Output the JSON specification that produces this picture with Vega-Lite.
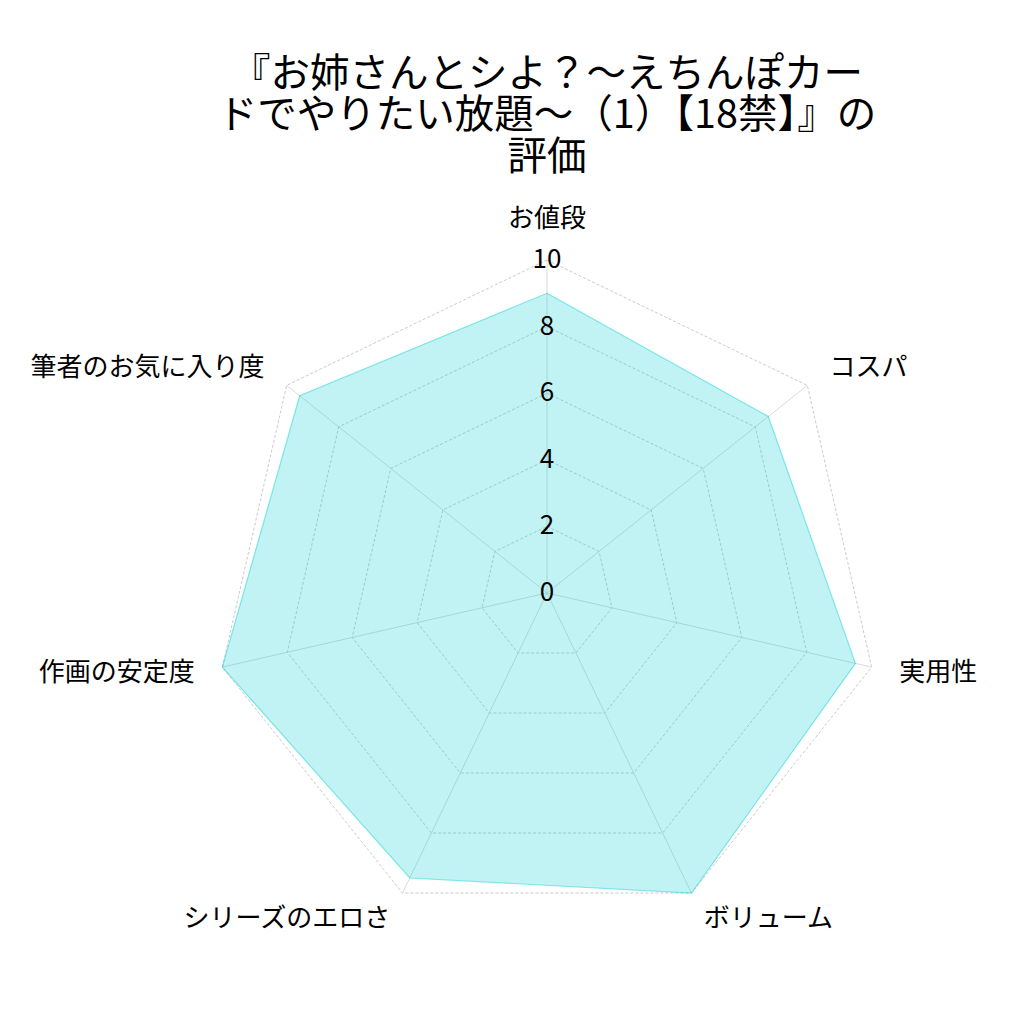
{
  "$schema": "https://vega.github.io/schema/vega-lite/v6.json",
  "width": 954,
  "height": 834,
  "autosize": {"type": "none"},
  "padding": {"left": 70, "top": 190, "right": 0, "bottom": 0},
  "title": {
    "text": ["『お姉さんとシよ？〜えちんぽカー", "ドでやりたい放題〜（1）【18禁】』の", "評価"],
    "font": "Noto Sans CJK JP",
    "fontSize": 39.5,
    "fontWeight": "normal",
    "lineHeight": 41.5,
    "color": "#000000",
    "anchor": "middle",
    "offset": 12
  },
  "config": {"view": {"stroke": null}, "font": "Noto Sans CJK JP"},
  "datasets": {
    "scores": [
      {"label": "お値段", "i": 0, "value": 9},
      {"label": "コスパ", "i": 1, "value": 8.5},
      {"label": "実用性", "i": 2, "value": 9.5},
      {"label": "ボリューム", "i": 3, "value": 10},
      {"label": "シリーズのエロさ", "i": 4, "value": 9.5},
      {"label": "作画の安定度", "i": 5, "value": 10},
      {"label": "筆者のお気に入り度", "i": 6, "value": 9.5}
    ],
    "rings": [
      {"level": 2, "i": [0, 1, 2, 3, 4, 5, 6]},
      {"level": 4, "i": [0, 1, 2, 3, 4, 5, 6]},
      {"level": 6, "i": [0, 1, 2, 3, 4, 5, 6]},
      {"level": 8, "i": [0, 1, 2, 3, 4, 5, 6]},
      {"level": 10, "i": [0, 1, 2, 3, 4, 5, 6]}
    ],
    "ticks": [
      {"level": 0}, {"level": 2}, {"level": 4}, {"level": 6}, {"level": 8}, {"level": 10}
    ]
  },
  "encoding": {
    "x": {"field": "px", "type": "quantitative", "scale": {"domain": [-14.324, 14.324]}, "axis": null},
    "y": {"field": "py", "type": "quantitative", "scale": {"domain": [-12.943, 12.102]}, "axis": null}
  },
  "layer": [
    {
      "data": {"name": "rings"},
      "transform": [
        {"flatten": ["i"]},
        {"calculate": "datum.level * sin(datum.i * 2 * PI / 7)", "as": "px"},
        {"calculate": "datum.level * cos(datum.i * 2 * PI / 7)", "as": "py"}
      ],
      "mark": {"type": "line", "interpolate": "linear-closed", "stroke": "#bcbcbc", "strokeWidth": 0.8, "strokeDash": [3, 2]},
      "encoding": {
        "detail": {"field": "level", "type": "nominal"},
        "order": {"field": "i", "type": "quantitative"}
      }
    },
    {
      "data": {"name": "scores"},
      "transform": [
        {"calculate": "10 * sin(datum.i * 2 * PI / 7)", "as": "px"},
        {"calculate": "10 * cos(datum.i * 2 * PI / 7)", "as": "py"}
      ],
      "mark": {"type": "rule", "color": "#d0d0d0", "strokeWidth": 0.8},
      "encoding": {
        "x2": {"datum": 0},
        "y2": {"datum": 0}
      }
    },
    {
      "data": {"name": "scores"},
      "transform": [
        {"calculate": "datum.value * sin(datum.i * 2 * PI / 7)", "as": "px"},
        {"calculate": "datum.value * cos(datum.i * 2 * PI / 7)", "as": "py"}
      ],
      "mark": {
        "type": "line",
        "interpolate": "linear-closed",
        "fill": "#00ced1",
        "fillOpacity": 0.24,
        "stroke": "#00ced1",
        "strokeOpacity": 0.45,
        "strokeWidth": 1.2
      },
      "encoding": {
        "order": {"field": "i", "type": "quantitative"}
      }
    },
    {
      "data": {"name": "ticks"},
      "transform": [
        {"calculate": "0", "as": "px"},
        {"calculate": "datum.level", "as": "py"}
      ],
      "mark": {"type": "text", "align": "center", "baseline": "middle", "fontSize": 26, "color": "#000000"},
      "encoding": {
        "text": {"field": "level", "type": "quantitative"}
      }
    },
    {
      "data": {"name": "scores"},
      "transform": [
        {"filter": "datum.i == 0"},
        {"calculate": "10.85 * sin(datum.i * 2 * PI / 7)", "as": "px"},
        {"calculate": "10.85 * cos(datum.i * 2 * PI / 7)", "as": "py"}
      ],
      "mark": {"type": "text", "align": "center", "baseline": "bottom", "fontSize": 26, "color": "#000000"},
      "encoding": {"text": {"field": "label", "type": "nominal"}}
    },
    {
      "data": {"name": "scores"},
      "transform": [
        {"filter": "datum.i >= 1 && datum.i <= 3"},
        {"calculate": "10.85 * sin(datum.i * 2 * PI / 7)", "as": "px"},
        {"calculate": "10.85 * cos(datum.i * 2 * PI / 7)", "as": "py"}
      ],
      "mark": {"type": "text", "align": "left", "baseline": "middle", "fontSize": 26, "color": "#000000"},
      "encoding": {"text": {"field": "label", "type": "nominal"}}
    },
    {
      "data": {"name": "scores"},
      "transform": [
        {"filter": "datum.i >= 4"},
        {"calculate": "10.85 * sin(datum.i * 2 * PI / 7)", "as": "px"},
        {"calculate": "10.85 * cos(datum.i * 2 * PI / 7)", "as": "py"}
      ],
      "mark": {"type": "text", "align": "right", "baseline": "middle", "fontSize": 26, "color": "#000000"},
      "encoding": {"text": {"field": "label", "type": "nominal"}}
    }
  ]
}
